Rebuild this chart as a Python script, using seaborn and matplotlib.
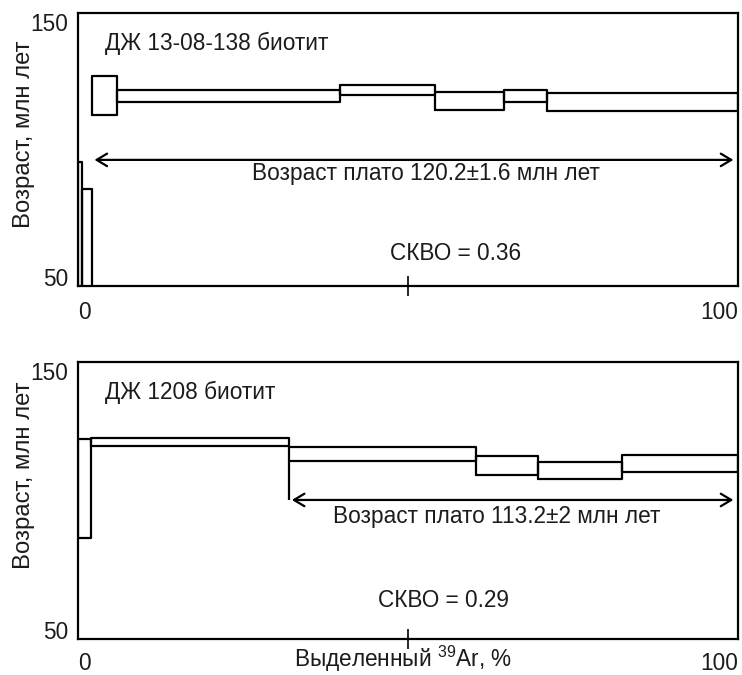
import matplotlib
matplotlib.use("Agg")
import matplotlib.pyplot as plt
import pandas as pd
import seaborn as sns

sns.set_theme(style="white")
plt.rcParams["font.family"] = ["Liberation Sans", "DejaVu Sans"]
plt.rcParams["mathtext.fontset"] = "custom"
plt.rcParams["mathtext.rm"] = "Liberation Sans"

# --- Sample ДЖ 13-08-138: step boundaries (cumulative 39Ar, %) and age limits (Ma)
s1_name = "ДЖ 13-08-138 биотит"
s1_bounds = [0, 0.6, 2.1, 5.9, 39.7, 54.1, 64.5, 71.1, 100]
s1_upper = [95.4, 85.5, 126.9, 121.8, 123.6, 121.2, 121.8, 120.6]
s1_lower = [20.0, 20.0, 112.6, 117.5, 120.0, 114.5, 117.5, 114.1]
s1_plateau_range = [2.1, 100]
s1_plateau_age = 120.2
s1_plateau_err = "1.6"
s1_mswd = 0.36

# --- Sample ДЖ 1208
s2_name = "ДЖ 1208 биотит"
s2_bounds = [0, 1.9, 32.0, 60.3, 69.7, 82.5, 100]
s2_upper = [122.1, 122.6, 119.2, 116.2, 113.8, 116.4]
s2_lower = [86.4, 119.7, 114.4, 109.2, 107.8, 110.2]
s2_plateau_range = [32.0, 100]
s2_plateau_age = 113.2
s2_plateau_err = "2"
s2_mswd = 0.29

y_ticks = [50, 150]
x_ticks = [0, 100]
x_label = r"Выделенный $^{\mathregular{39}}$Ar, %"
y_label = "Возраст, млн лет"

FS = 16.3
FS_YLABEL = 17.2
INK = "#1c1c1c"
LW = 1.6

fig = plt.figure(figsize=(7.42, 6.75), dpi=100)
ax1 = fig.add_axes([0.1051, 0.5763, 0.8895, 0.4044])
ax2 = fig.add_axes([0.1051, 0.0533, 0.8895, 0.4104])


def spectrum(ax, bounds, upper, lower):
    # each heating step is an open box spanning its released-39Ar interval
    rows = []
    for i, (lo, hi) in enumerate(zip(lower, upper)):
        x0, x1 = bounds[i], bounds[i + 1]
        for x, y in ((x0, lo), (x0, hi), (x1, hi), (x1, lo), (x0, lo)):
            rows.append({"step": i, "x": x, "age": y})
    df = pd.DataFrame(rows)
    sns.lineplot(data=df, x="x", y="age", units="step", estimator=None,
                 sort=False, color="black", lw=LW, ax=ax)


def style_axes(ax, xpad, ylabel_pos):
    ax.set_xlim(0, 100)
    ax.set_ylim(50, 150)
    for s in ax.spines.values():
        s.set_visible(True)
        s.set_color("black")
        s.set_linewidth(LW)
        s.set_zorder(3)
    ax.set_yticks(y_ticks)
    ax.set_yticklabels([str(v) for v in y_ticks])
    ax.set_xticks(x_ticks)
    ax.set_xticklabels([str(v) for v in x_ticks])
    ax.set_xticks([50], minor=True)
    ax.tick_params(axis="both", which="major", length=0, labelsize=FS,
                   labelcolor=INK)
    ax.tick_params(axis="y", pad=7)
    ax.tick_params(axis="x", pad=xpad)
    ax.tick_params(axis="x", which="minor", bottom=True, direction="inout",
                   length=14, width=1.2, color="black")
    yl = ax.get_yticklabels()
    yl[0].set_va("baseline")
    yl[1].set_va("top")
    xl = ax.get_xticklabels()
    xl[0].set_ha("left")
    xl[1].set_ha("right")
    ax.set_xlabel("")
    ax.set_ylabel(y_label, fontsize=FS_YLABEL, color=INK)
    ax.yaxis.label.set_va("center")
    ax.yaxis.set_label_coords(-0.082, ylabel_pos)


def plateau(ax, rng, level, age, err, tx, ty):
    ax.annotate("", xy=(rng[0] + 0.4, level), xytext=(rng[1] - 0.7, level),
                arrowprops=dict(arrowstyle="<->,head_length=0.5,head_width=0.3",
                                mutation_scale=15, lw=LW, color="black",
                                shrinkA=0, shrinkB=0))
    ax.text(tx, ty, f"Возраст плато {age}±{err} млн лет", fontsize=FS,
            color=INK, ha="center", va="baseline")


# upper spectrum
spectrum(ax1, s1_bounds, s1_upper, s1_lower)
style_axes(ax1, 11, 0.557)
plateau(ax1, s1_plateau_range, 96.2, s1_plateau_age, s1_plateau_err, 52.7, 88.8)
ax1.text(4.1, 136.4, s1_name, fontsize=FS, color=INK, ha="left", va="baseline")
ax1.text(57.2, 59.5, f"СКВО = {s1_mswd}", fontsize=FS, color=INK,
         ha="center", va="baseline")

# lower spectrum
spectrum(ax2, s2_bounds, s2_upper, s2_lower)
style_axes(ax2, 9, 0.59)
ax2.vlines(s2_plateau_range[0], 100.2, s2_lower[2], color="black", lw=LW)
plateau(ax2, s2_plateau_range, 100.2, s2_plateau_age, s2_plateau_err, 63.5, 91.9)
ax2.text(4.1, 136.6, s2_name, fontsize=FS, color=INK, ha="left", va="baseline")
ax2.text(55.4, 61.6, f"СКВО = {s2_mswd}", fontsize=FS, color=INK,
         ha="center", va="baseline")
ax2.text(0.492, -0.100, x_label, transform=ax2.transAxes, fontsize=FS,
         color=INK, ha="center", va="baseline")

fig.savefig("out.png", dpi=100)
